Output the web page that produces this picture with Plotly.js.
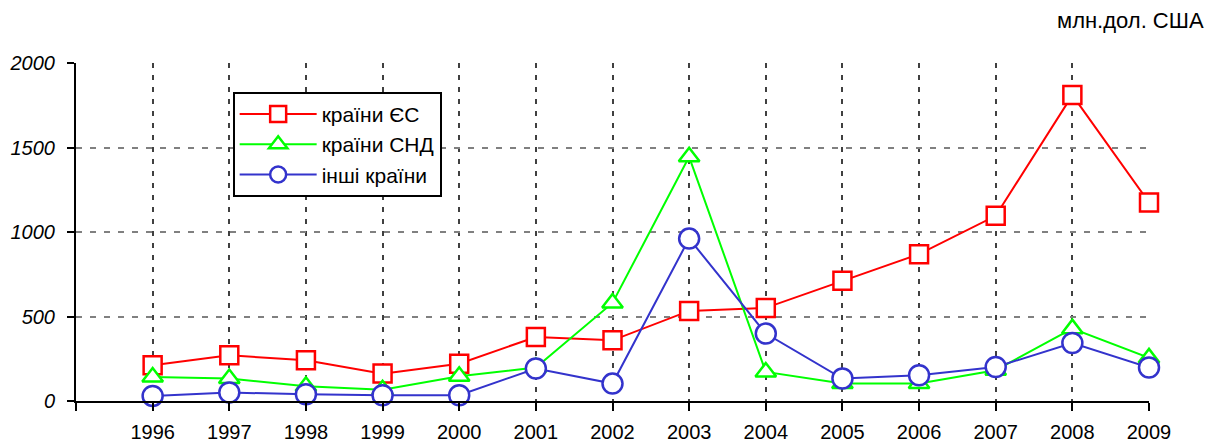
<!DOCTYPE html>
<html>
<head>
<meta charset="utf-8">
<script src="https://cdn.plot.ly/plotly-3.0.1.min.js"></script>
<style>html,body{margin:0;padding:0;background:#fff;}#chart{width:1214px;height:443px;}</style>
</head>
<body>
<div id="chart"></div>
<script>
const years = [1996, 1997, 1998, 1999, 2000, 2001, 2002, 2003, 2004, 2005, 2006, 2007, 2008, 2009];
const euValues = [211, 270, 241, 162, 221, 379, 359, 533, 551, 711, 869, 1096, 1810, 1175];
const cisValues = [142, 133, 87, 67, 146, 198, 580, 1445, 172, 103, 103, 182, 428, 255];
const otherValues = [30, 50, 40, 34, 34, 192, 103, 961, 399, 133, 152, 201, 343, 198];
const seriesNames = ['країни ЄС', 'країни СНД', 'інші країни'];
const xTickVals = [1995, 1996, 1997, 1998, 1999, 2000, 2001, 2002, 2003, 2004, 2005, 2006, 2007, 2008, 2009];
const xTickText = ['', '1996', '1997', '1998', '1999', '2000', '2001', '2002', '2003', '2004', '2005', '2006', '2007', '2008', '2009'];
const yTickVals = [0, 500, 1000, 1500, 2000];
const unitLabel = 'млн.дол. США';

const FONT = 'Arial, "Liberation Sans", sans-serif';

const traces = [
  {x: years, y: euValues, name: seriesNames[0], type: 'scatter', mode: 'lines+markers', cliponaxis: false,
   line: {color: '#ff0000', width: 2},
   marker: {symbol: 'square', size: 18, color: '#ffffff', line: {color: '#ff0000', width: 2.5}}},
  {x: years, y: cisValues, name: seriesNames[1], type: 'scatter', mode: 'lines+markers', cliponaxis: false,
   line: {color: '#00ff00', width: 2},
   marker: {symbol: 'triangle-up', size: 18, color: '#ffffff', line: {color: '#00ff00', width: 2.5}}},
  {x: years, y: otherValues, name: seriesNames[2], type: 'scatter', mode: 'lines+markers', cliponaxis: false,
   line: {color: '#3333cc', width: 2},
   marker: {symbol: 'circle', size: 20, color: '#ffffff', line: {color: '#3333cc', width: 2.5}}}
];

const layout = {
  width: 1214, height: 443,
  margin: {l: 76, r: 65, t: 63, b: 42},
  paper_bgcolor: '#ffffff', plot_bgcolor: '#ffffff',
  font: {family: FONT, size: 20, color: '#000'},
  showlegend: true,
  legend: {
    x: 0.146, y: 0.915, xanchor: 'left', yanchor: 'top',
    bgcolor: '#ffffff', bordercolor: '#000000', borderwidth: 2,
    font: {family: FONT, size: 21, color: '#000'},
    tracegroupgap: 0, itemwidth: 77
  },
  xaxis: {
    range: [1995, 2009], tickmode: 'array', tickvals: xTickVals, ticktext: xTickText,
    showline: true, linecolor: '#000', linewidth: 2,
    ticks: 'outside', ticklen: 8, tickwidth: 2, tickcolor: '#000',
    showgrid: true, gridcolor: '#404040', gridwidth: 2, griddash: '5px,7px',
    zeroline: false, ticklabelstandoff: 4,
    tickfont: {family: FONT, size: 20, color: '#000'}
  },
  yaxis: {
    range: [0, 2000], tickmode: 'array', tickvals: yTickVals,
    showline: true, linecolor: '#000', linewidth: 2,
    ticks: 'outside', ticklen: 7, tickwidth: 2, tickcolor: '#000',
    showgrid: true, gridcolor: '#808080', gridwidth: 2, griddash: '6px,8px',
    zeroline: false, ticklabelstandoff: 8,
    tickfont: {family: FONT, size: 20, color: '#000', style: 'italic'}
  },
  annotations: [
    {text: unitLabel, xref: 'paper', yref: 'paper', x: 1.0535, y: 1.125, xanchor: 'right', yanchor: 'middle',
     showarrow: false, font: {family: FONT, size: 22, color: '#000'}}
  ]
};

Plotly.newPlot('chart', traces, layout, {displayModeBar: false, staticPlot: true});
</script>
</body>
</html>
